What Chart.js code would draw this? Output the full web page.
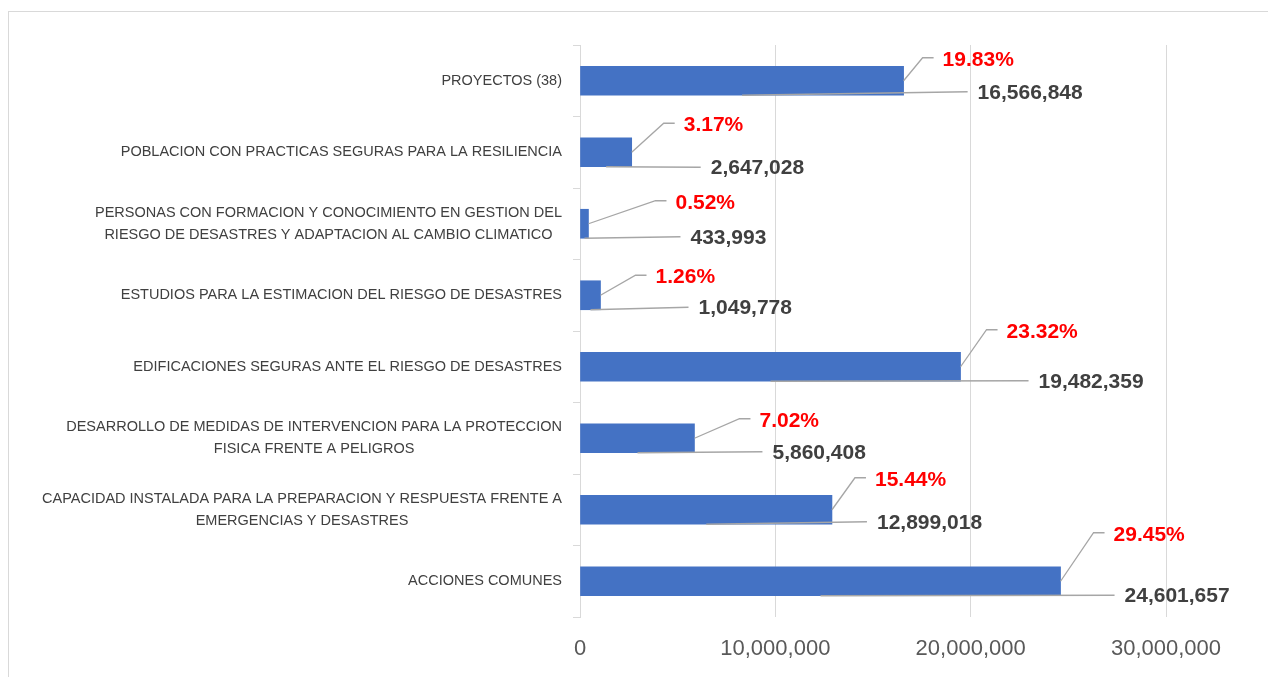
<!DOCTYPE html>
<html>
<head>
<meta charset="utf-8">
<title>Presupuesto por producto</title>
<script src="https://cdn.jsdelivr.net/npm/chart.js@4"></script>
<style>
  html, body { margin: 0; padding: 0; background: #ffffff; }
  #budgetChart { display: block; }
</style>
</head>
<body>
<canvas id="budgetChart" width="1268" height="677"></canvas>
<script>
// Categories, top to bottom (each entry = the lines of the label)
const categories = [
  ["PROYECTOS (38)"],
  ["POBLACION CON PRACTICAS SEGURAS PARA LA RESILIENCIA"],
  ["PERSONAS CON FORMACION Y CONOCIMIENTO EN GESTION DEL", "RIESGO DE DESASTRES Y ADAPTACION AL CAMBIO CLIMATICO"],
  ["ESTUDIOS PARA LA ESTIMACION DEL RIESGO DE DESASTRES"],
  ["EDIFICACIONES SEGURAS ANTE EL RIESGO DE DESASTRES"],
  ["DESARROLLO DE MEDIDAS DE INTERVENCION PARA LA PROTECCION", "FISICA FRENTE A PELIGROS"],
  ["CAPACIDAD INSTALADA PARA LA PREPARACION Y RESPUESTA FRENTE A", "EMERGENCIAS Y DESASTRES"],
  ["ACCIONES COMUNES"]
];

// Amounts shown on the bars
const amounts = [16566848, 2647028, 433993, 1049778, 19482359, 5860408, 12899018, 24601657];

// Share of the total, as printed in red
const shares = [19.83, 3.17, 0.52, 1.26, 23.32, 7.02, 15.44, 29.45];

// x axis ticks
const xTicks = [0, 10000000, 20000000, 30000000];

// where each label was dragged to (px from bar end / bar centre)
const shareLabelPos = [[39, -21], [52, -27], [87, -21], [55, -18], [46, -35], [65, -17.5], [43, -30], [53, -46.5]];
const amountLabelPos = [[74, 12], [79, 16], [102, 14], [98, 13], [78, 15], [78, 14.5], [45, 13], [64, 15]];

document.addEventListener("DOMContentLoaded", function () {
  const ctx = document.getElementById("budgetChart").getContext("2d");
  const fontFamily = "'Liberation Sans', Arial, sans-serif";

  // light frame around the chart, cut off on the right and bottom like the original
  const framePlugin = {
    id: "frame",
    beforeDraw(chart) {
      const c = chart.ctx;
      c.save();
      c.fillStyle = "#ffffff";
      c.fillRect(0, 0, chart.width, chart.height);
      c.strokeStyle = "#d9d9d9";
      c.lineWidth = 1;
      c.strokeRect(8.5, 11.5, chart.width + 20, chart.height + 20);
      c.restore();
    }
  };

  // category labels: block right aligned, lines centred inside the block
  const categoryLabels = {
    id: "categoryLabels",
    afterDraw(chart) {
      const c = chart.ctx;
      const yScale = chart.scales.y;
      const rightEdge = chart.chartArea.left - 18;
      const lineH = 22;
      c.save();
      c.font = "14.5px " + fontFamily;
      c.fillStyle = "#404040";
      c.textAlign = "center";
      c.textBaseline = "middle";
      categories.forEach((lines, i) => {
        const cy = yScale.getPixelForValue(i);
        const widest = Math.max(...lines.map(l => c.measureText(l).width));
        const cx = rightEdge - widest / 2;
        const startY = cy - (lines.length - 1) * lineH / 2;
        lines.forEach((l, j) => c.fillText(l, cx, startY + j * lineH));
      });
      c.restore();
    }
  };

  // percentage + amount labels with their leader lines
  const barLabels = {
    id: "barLabels",
    afterDatasetsDraw(chart) {
      const c = chart.ctx;
      const meta = chart.getDatasetMeta(0);
      c.save();
      c.lineWidth = 1.3;
      c.strokeStyle = "#a6a6a6";
      c.textAlign = "left";
      c.textBaseline = "middle";
      meta.data.forEach((bar, i) => {
        const endX = bar.x;
        const cy = bar.y;
        const bottom = cy + bar.height / 2;
        const midX = (bar.base + bar.x) / 2;

        // red percentage
        const tx = endX + shareLabelPos[i][0];
        const ty = cy + shareLabelPos[i][1];
        c.beginPath();
        c.moveTo(endX, cy);
        c.lineTo(tx - 20, ty - 2);
        c.lineTo(tx - 9, ty - 2);
        c.stroke();
        c.font = "bold 21px " + fontFamily;
        c.fillStyle = "#ff0000";
        c.fillText(shares[i].toFixed(2) + "%", tx, ty);

        // amount
        const vx = endX + amountLabelPos[i][0];
        const vy = cy + amountLabelPos[i][1];
        c.beginPath();
        c.moveTo(midX, bottom);
        c.lineTo(vx - 10, vy - 1);
        c.stroke();
        c.fillStyle = "#404040";
        c.fillText(amounts[i].toLocaleString("en-US"), vx, vy);
      });
      c.restore();
    }
  };

  new Chart(ctx, {
    type: "bar",
    data: {
      labels: categories,
      datasets: [{
        data: amounts,
        backgroundColor: "#4472c4",
        borderWidth: 0,
        barThickness: 29
      }]
    },
    options: {
      indexAxis: "y",
      responsive: false,
      animation: false,
      devicePixelRatio: 1,
      layout: { padding: { left: 573, top: 45, right: 102, bottom: 0 } },
      plugins: {
        legend: { display: false },
        tooltip: { enabled: false }
      },
      scales: {
        x: {
          min: xTicks[0],
          max: xTicks[xTicks.length - 1],
          afterBuildTicks(scale) {
            scale.ticks = xTicks.map(v => ({ value: v }));
          },
          afterFit(scale) { scale.height = 60; },
          grid: { color: "#d9d9d9", lineWidth: 1, drawTicks: false },
          border: { display: false },
          ticks: {
            padding: 19,
            color: "#595959",
            font: { family: fontFamily, size: 22 },
            callback: v => Number(v).toLocaleString("en-US")
          }
        },
        y: {
          afterFit(scale) { scale.width = 7; },
          grid: { drawOnChartArea: false, drawTicks: true, tickLength: 7, color: "#d9d9d9", offset: true },
          border: { display: true, color: "#d9d9d9", width: 1 },
          ticks: { display: false }
        }
      }
    },
    plugins: [framePlugin, categoryLabels, barLabels]
  });
});
</script>
</body>
</html>
